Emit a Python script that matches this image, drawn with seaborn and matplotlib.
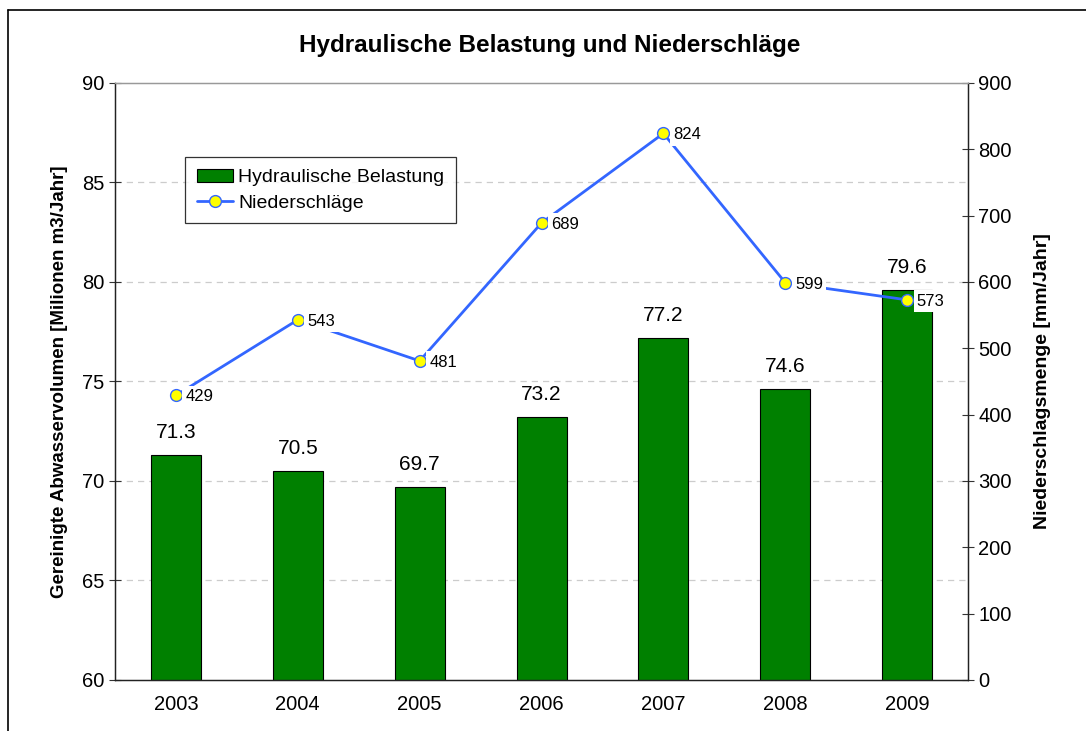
import numpy as np
import pandas as pd
import matplotlib
matplotlib.use("Agg")
import matplotlib.pyplot as plt
from matplotlib.lines import Line2D
from matplotlib.patches import Patch
import seaborn as sns

years = ["2003", "2004", "2005", "2006", "2007", "2008", "2009"]
belastung = [71.3, 70.5, 69.7, 73.2, 77.2, 74.6, 79.6]
niederschlag = [429, 543, 481, 689, 824, 599, 573]

BAR_GREEN = "#008000"
LINE_BLUE = "#3366FF"

sns.set_theme(style="white")
plt.rcParams["font.family"] = ["Liberation Sans", "DejaVu Sans"]
plt.rcParams.update({"text.color": "black", "axes.labelcolor": "black",
                     "xtick.color": "black", "ytick.color": "black"})

df = pd.DataFrame({"Jahr": years, "Belastung": belastung, "Niederschlag": niederschlag})

fig = plt.figure(figsize=(10.86, 7.31), dpi=100)
ax = fig.add_axes([0.1059, 0.0698, 0.7855, 0.8167])

sns.barplot(data=df, x="Jahr", y="Belastung", ax=ax, color=BAR_GREEN,
            saturation=1, width=0.41, edgecolor="black", linewidth=0.8, zorder=2)
for patch in ax.patches:
    patch.set_facecolor(BAR_GREEN)
ax.set_ylim(60, 90)
ax.set_xlim(-0.5, 6.5)
ax.set_yticks(range(60, 91, 5))
ax.set_xticks(np.arange(-0.5, 7, 1), minor=False)
ax.set_xticklabels([])
ax.set_xticks(range(7), minor=True)
ax.set_xticklabels(years, minor=True)
ax.tick_params(axis="x", which="minor", length=0, pad=11, labelsize=14.5)
ax.tick_params(axis="x", which="major", direction="inout", length=8, width=0.8, color="#333333")
ax.tick_params(axis="y", direction="inout", length=8, width=0.8, labelsize=14.5, color="#333333")
for y in range(65, 90, 5):
    ax.axhline(y, color="#cccccc", lw=0.9, ls=(0, (5, 4)), zorder=0)
ax.set_xlabel("")
ax.set_ylabel("Gereinigte Abwasservolumen [Milionen m3/Jahr]", fontsize=13.5,
              fontweight="bold", labelpad=10)
for i, v in enumerate(belastung):
    ax.text(i, v + 0.65, f"{v:.1f}", ha="center", va="bottom", fontsize=15)

ax2 = ax.twinx()
sns.lineplot(x=np.arange(len(years)), y=niederschlag, ax=ax2, color=LINE_BLUE,
             lw=2, marker="o", markersize=8.5, markerfacecolor="#FFFF00",
             markeredgecolor=LINE_BLUE, markeredgewidth=1, zorder=3)
ax2.set_ylim(0, 900)
ax2.set_yticks(range(0, 901, 100))
ax2.tick_params(axis="y", direction="inout", length=8, width=0.8, labelsize=14.5, color="#333333")
ax2.set_ylabel("Niederschlagsmenge [mm/Jahr]", fontsize=14, fontweight="bold", labelpad=16)
for i, v in enumerate(niederschlag):
    ax2.annotate(str(v), (i, v), xytext=(7, -1), textcoords="offset points",
                 ha="left", va="center", fontsize=12,
                 bbox=dict(boxstyle="square,pad=0.2", fc="white", ec="none"), zorder=4)

for a in (ax, ax2):
    for s in a.spines.values():
        s.set_color("#222222")
        s.set_linewidth(0.9)
    a.spines["top"].set_color("#999999")

ax.set_title("Hydraulische Belastung und Niederschläge", fontsize=17.5,
             fontweight="bold", pad=22, x=0.509)

handles = [Patch(facecolor=BAR_GREEN, edgecolor="black", lw=0.8),
           Line2D([], [], color=LINE_BLUE, lw=2, marker="o", markersize=8.5,
                  markerfacecolor="#FFFF00", markeredgecolor=LINE_BLUE)]
leg = ax2.legend(handles, ["Hydraulische Belastung", "Niederschläge"],
                 loc="upper left", bbox_to_anchor=(0.082, 0.876), fontsize=14,
                 frameon=True, fancybox=False, edgecolor="black",
                 borderaxespad=0, borderpad=0.6, handlelength=1.85,
                 handletextpad=0.3, labelspacing=0.4)
leg.get_frame().set_linewidth(0.9)

fig.add_artist(Line2D([0.0075, 0.0075], [0, 0.987], color="black", lw=1.2))
fig.add_artist(Line2D([0.0075, 1.0], [0.987, 0.987], color="black", lw=1.2))

fig.savefig("out.png", dpi=100)
